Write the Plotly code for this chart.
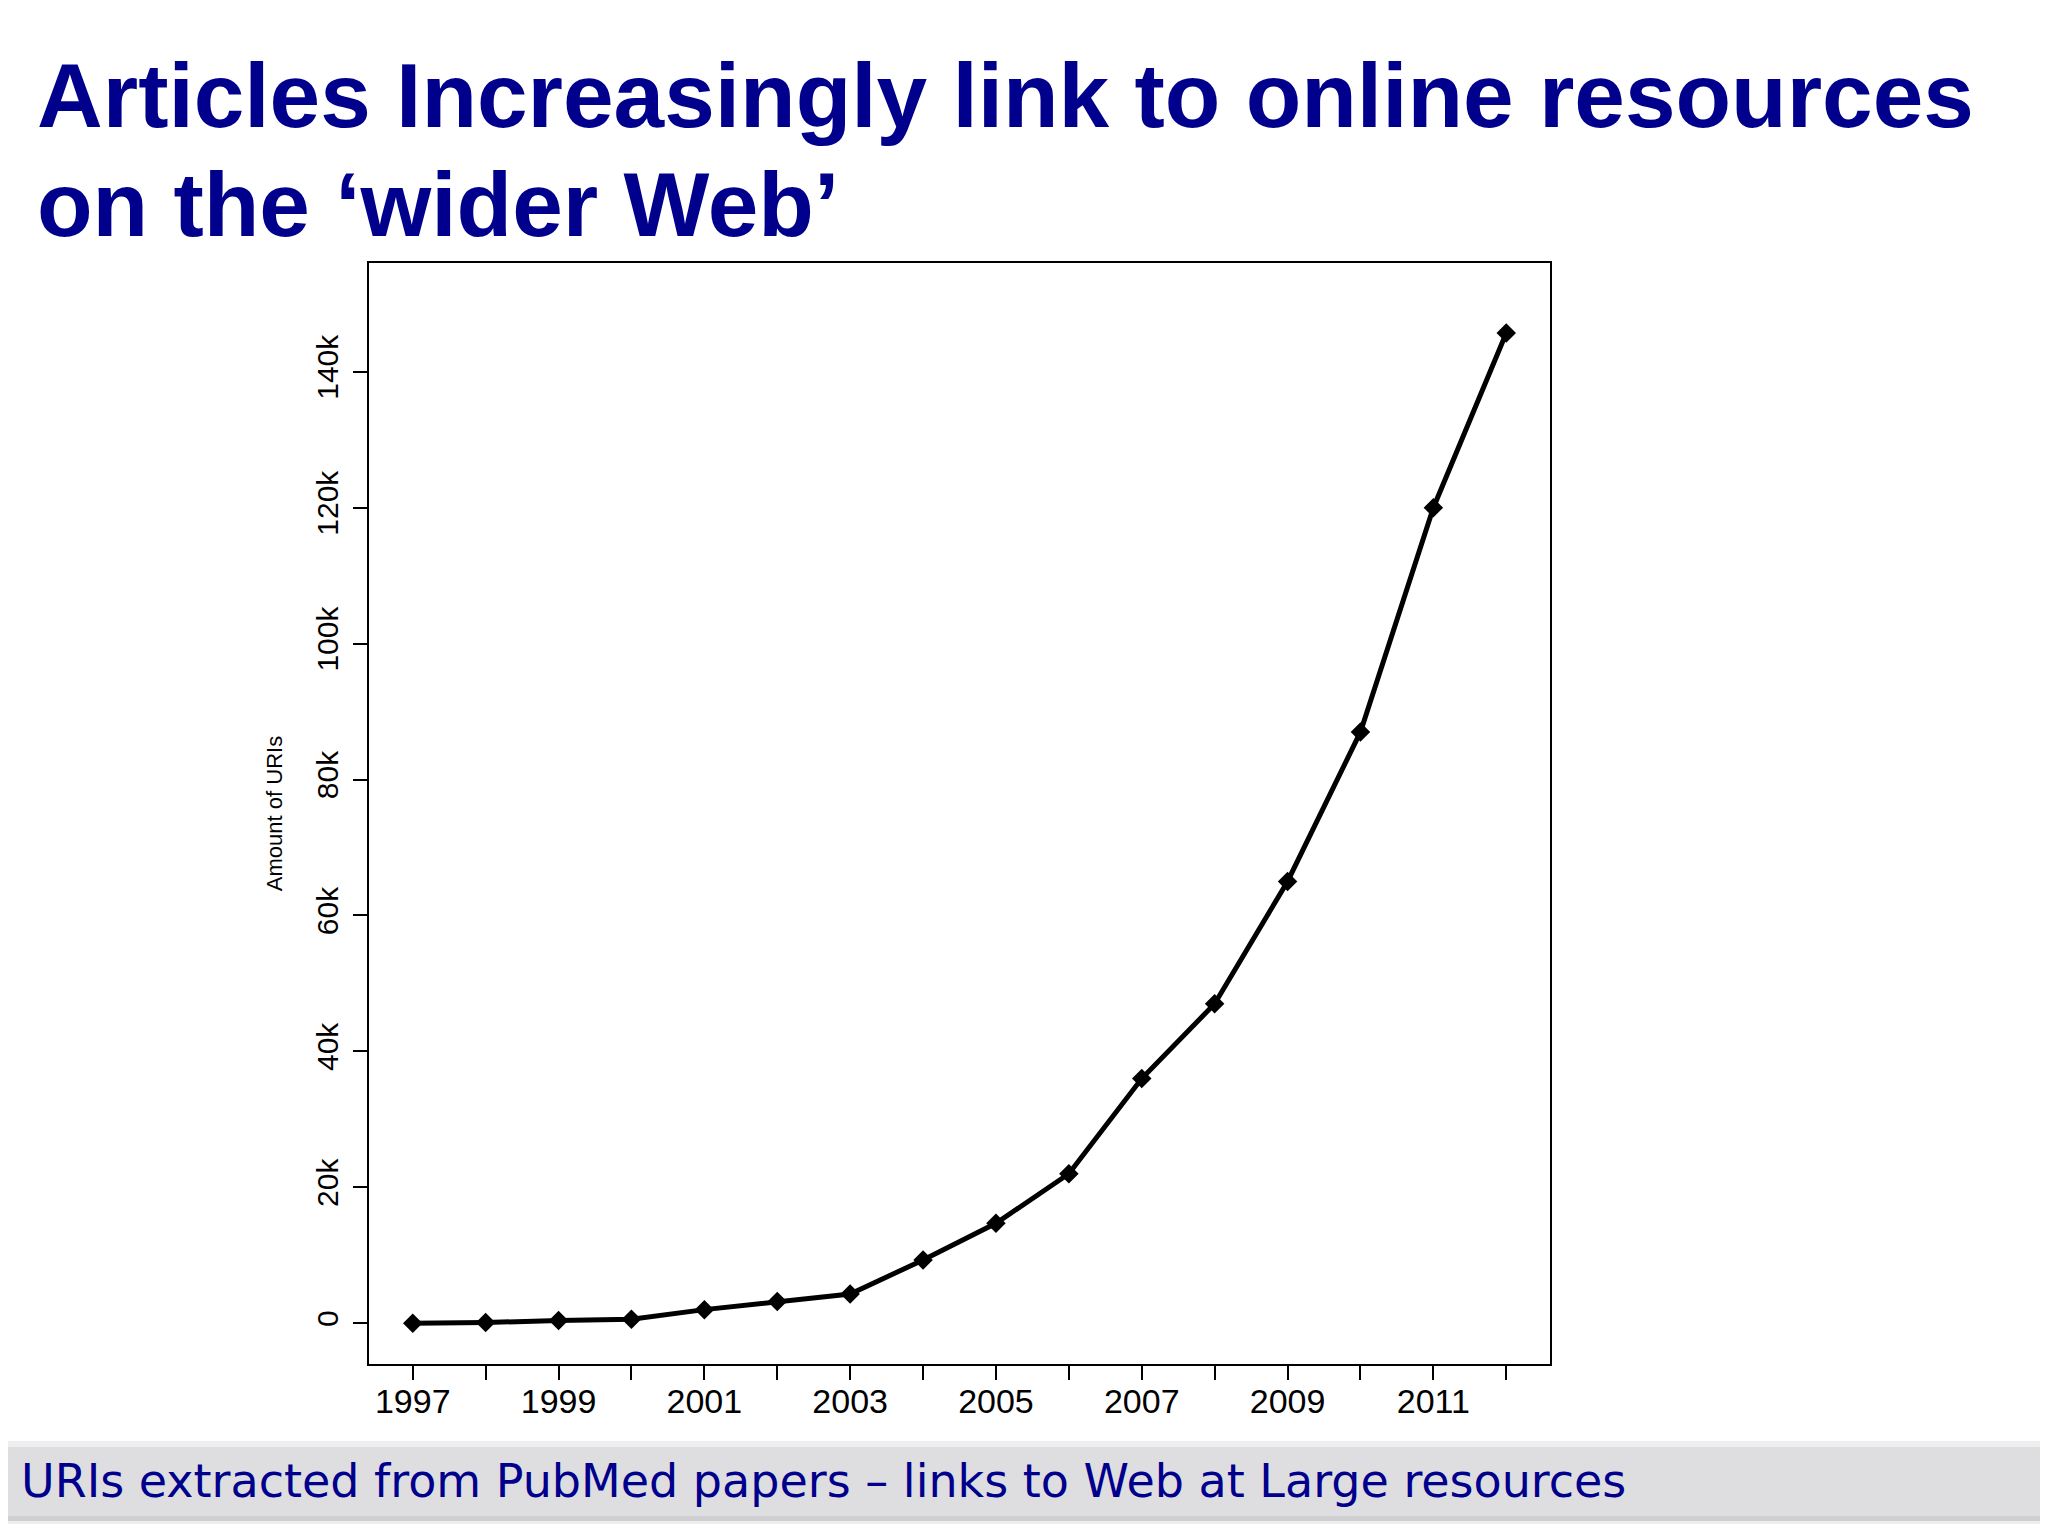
import plotly.graph_objects as go

# data
years = list(range(1997, 2013))
uris = [0, 100, 400, 600, 2000, 3200, 4300, 9300, 14700, 22000,
        36000, 47000, 65000, 87000, 120000, 145700]

y_ticks = [0, 20000, 40000, 60000, 80000, 100000, 120000, 140000]
y_labels = ["0", "20k", "40k", "60k", "80k", "100k", "120k", "140k"]
x_labels = [str(y) if y % 2 == 1 and y < 2012 else "" for y in years]

title_lines = ["Articles Increasingly link to online resources",
               "on the \u2018wider Web\u2019"]
footer = "URIs extracted from PubMed papers \u2013 links to Web at Large resources"

NAVY = "#00008c"
W, H = 2048, 1536
OFF = 8  # page body margin
L, R, T, B = 369 - OFF, 1550 - OFF, 263 - OFF, 1364 - OFF  # plot box in figure pixels


def px(x):
    return (x - OFF - L) / (R - L)


def py(y):
    return (B - (y - OFF)) / (B - T)


fig = go.Figure()
fig.add_trace(go.Scatter(
    x=years, y=uris,
    mode="lines+markers",
    line=dict(color="black", width=5),
    marker=dict(symbol="diamond", size=15, color="black"),
    showlegend=False,
))

fig.update_xaxes(
    range=[1996.4, 2012.6],
    tickvals=years, ticktext=x_labels,
    ticks="outside", ticklen=14, tickwidth=1.5, tickcolor="black",
    ticklabelstandoff=-8,
    showline=True, linecolor="black", linewidth=1.5, mirror=True,
    showgrid=False, zeroline=False,
    tickfont=dict(family="Liberation Sans, Arial, sans-serif", size=34, color="black"),
)
fig.update_yaxes(
    range=[-6000, 156000],
    tickvals=y_ticks, ticktext=y_labels, tickangle=-90,
    ticks="outside", ticklen=14, tickwidth=1.5, tickcolor="black",
    ticklabelstandoff=3,
    showline=True, linecolor="black", linewidth=1.5, mirror=True,
    showgrid=False, zeroline=False,
    tickfont=dict(family="Liberation Sans, Arial, sans-serif", size=30, color="black"),
    title=dict(text="Amount of URIs", standoff=23,
               font=dict(family="Liberation Sans, Arial, sans-serif", size=22, color="black")),
)

shapes = [
    # footer band with a soft shadow
    dict(type="rect", xref="paper", yref="paper",
         x0=px(6), x1=px(W + 20), y0=py(1524), y1=py(1441),
         fillcolor="#eeeeee", line=dict(width=0), layer="below"),
    dict(type="rect", xref="paper", yref="paper",
         x0=px(8), x1=px(W + 20), y0=py(1518), y1=py(1447),
         fillcolor="#dedee0", line=dict(width=0), layer="below"),
    dict(type="rect", xref="paper", yref="paper",
         x0=px(8), x1=px(W + 20), y0=py(1521), y1=py(1516),
         fillcolor="#cfcfd1", line=dict(width=0), layer="below"),
]

title_font = dict(family="Liberation Sans, Arial, sans-serif", size=91, color=NAVY)
annotations = [
    dict(text="<b>%s</b>" % title_lines[0], x=px(35), y=py(126 + 22),
         xref="paper", yref="paper", xanchor="left", yanchor="bottom",
         showarrow=False, font=title_font),
    dict(text="<b>%s</b>" % title_lines[1], x=px(35), y=py(235 + 22),
         xref="paper", yref="paper", xanchor="left", yanchor="bottom",
         showarrow=False, font=title_font),
    dict(text=footer, x=px(19), y=py(1499 + 11),
         xref="paper", yref="paper", xanchor="left", yanchor="bottom",
         showarrow=False,
         font=dict(family="DejaVu Sans, Verdana, sans-serif", size=46, color=NAVY)),
]

fig.update_layout(
    width=W, height=H,
    margin=dict(l=L, r=W - R, t=T, b=H - B),
    paper_bgcolor="white", plot_bgcolor="white",
    shapes=shapes, annotations=annotations,
)

fig.write_html("out.html")
